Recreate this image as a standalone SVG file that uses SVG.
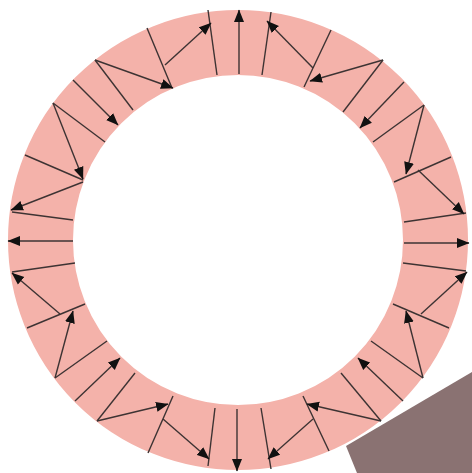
<svg xmlns="http://www.w3.org/2000/svg" width="472" height="473" viewBox="0 0 472 473">
<style>
.b{stroke:#3d3333;stroke-width:1.4;fill:none}
.a{stroke:#3d3333;stroke-width:1.4;fill:none;marker-end:url(#h)}
</style>
<defs>
<marker id="h" markerUnits="userSpaceOnUse" markerWidth="13" markerHeight="11" refX="12" refY="5" orient="auto" viewBox="0 0 13 10">
<path d="M0,0 L12.5,5 L0,10 z" fill="#111"/>
</marker>
</defs>
<rect width="472" height="473" fill="#ffffff"/>
<polygon id="corner" points="346,446 472,372 472,473 357,473" fill="#8a7272"/>
<g id="ring">
<circle cx="238" cy="240" r="197.5" fill="none" stroke="#f4b2aa" stroke-width="65"/>
</g>
<g id="boundaries">
<line class="b" x1="208" y1="10" x2="217" y2="75"/>
<line class="b" x1="147" y1="28" x2="172" y2="88"/>
<line class="b" x1="95" y1="60" x2="133" y2="110"/>
<line class="b" x1="53" y1="103" x2="105" y2="142"/>
<line class="b" x1="25" y1="155" x2="83" y2="180"/>
<line class="b" x1="12" y1="212" x2="73" y2="220"/>
<line class="b" x1="12" y1="272" x2="75" y2="263"/>
<line class="b" x1="27" y1="328" x2="85" y2="304"/>
<line class="b" x1="55" y1="378" x2="107" y2="341"/>
<line class="b" x1="97" y1="421" x2="135" y2="373"/>
<line class="b" x1="148" y1="453" x2="173" y2="396"/>
<line class="b" x1="208" y1="466" x2="215" y2="408"/>
<line class="b" x1="271" y1="469" x2="261" y2="408"/>
<line class="b" x1="329" y1="451" x2="303" y2="396"/>
<line class="b" x1="381" y1="421" x2="341" y2="373"/>
<line class="b" x1="423" y1="378" x2="371" y2="341"/>
<line class="b" x1="449" y1="328" x2="393" y2="304"/>
<line class="b" x1="466" y1="271" x2="403" y2="263"/>
<line class="b" x1="466" y1="213" x2="404" y2="222"/>
<line class="b" x1="451" y1="157" x2="394" y2="182"/>
<line class="b" x1="424" y1="105" x2="373" y2="142"/>
<line class="b" x1="383" y1="60" x2="343" y2="112"/>
<line class="b" x1="331" y1="30" x2="304" y2="87"/>
<line class="b" x1="271" y1="12" x2="262" y2="75"/>
</g>
<g id="arrows">
<line class="a" x1="239" y1="74" x2="239" y2="10"/>
<line class="a" x1="165" y1="65" x2="211" y2="23"/>
<line class="a" x1="95" y1="60" x2="173" y2="88"/>
<line class="a" x1="73" y1="80" x2="118" y2="125"/>
<line class="a" x1="53" y1="103" x2="83" y2="179"/>
<line class="a" x1="83" y1="182" x2="11" y2="210"/>
<line class="a" x1="73" y1="241" x2="8" y2="241"/>
<line class="a" x1="60" y1="314" x2="12" y2="273"/>
<line class="a" x1="55" y1="378" x2="73" y2="311"/>
<line class="a" x1="75" y1="401" x2="120" y2="358"/>
<line class="a" x1="97" y1="421" x2="168" y2="404"/>
<line class="a" x1="163" y1="419" x2="209" y2="459"/>
<line class="a" x1="237" y1="409" x2="237" y2="471"/>
<line class="a" x1="313" y1="419" x2="268" y2="459"/>
<line class="a" x1="381" y1="421" x2="307" y2="404"/>
<line class="a" x1="403" y1="401" x2="358" y2="358"/>
<line class="a" x1="423" y1="378" x2="406" y2="311"/>
<line class="a" x1="421" y1="314" x2="467" y2="272"/>
<line class="a" x1="404" y1="243" x2="469" y2="243"/>
<line class="a" x1="418" y1="170" x2="464" y2="214"/>
<line class="a" x1="424" y1="105" x2="406" y2="174"/>
<line class="a" x1="404" y1="82" x2="360" y2="128"/>
<line class="a" x1="383" y1="60" x2="310" y2="81"/>
<line class="a" x1="313" y1="68" x2="267" y2="21"/>
</g>
</svg>
